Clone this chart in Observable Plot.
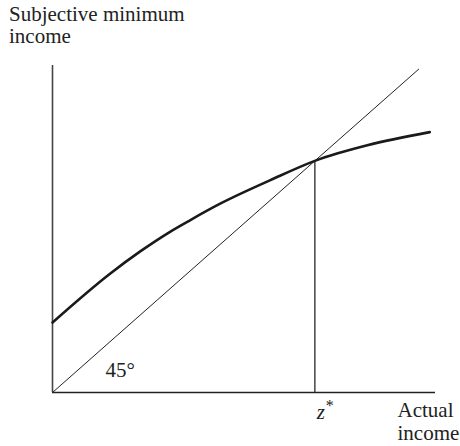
<!DOCTYPE html>
<html>
<head>
<meta charset="utf-8">
<script src="https://cdn.jsdelivr.net/npm/d3@7"></script>
<script src="https://cdn.jsdelivr.net/npm/@observablehq/plot@0.6"></script>
<style>
  body { margin: 0; background: #fff; font-family: "Liberation Serif", "Times New Roman", serif; }
  #title { height: 58px; padding: 3px 0 0 9px; box-sizing: border-box; font-size: 21px; line-height: 22px; color: #222; }
  #chart svg { display: block; overflow: visible; }
</style>
</head>
<body>
<div id="title">Subjective minimum<br>income</div>
<div id="chart"></div>
<script>
// Subjective minimum income curve (data units)
const incomeX = [0, 15.1, 23.0, 30.8, 36.0, 43.9, 56.9, 68.5, 82.2, 98.5];
const minIncomeY = [20.7, 35.2, 41.8, 47.6, 51.0, 55.9, 62.8, 68.5, 73.1, 77.0];
// 45-degree line extent
const diagonalX = [0, 95.6];
// intersection point z*
const zStar = 68.5;
const xDomain = [0, 100];
const yDomain = [0, 96.7];

const curve = incomeX.map((x, i) => ({x, y: minIncomeY[i]}));
const diag = diagonalX.map(x => ({x, y: x}));
const serif = "Liberation Serif";

const plot = Plot.plot({
  width: 460,
  height: 388,
  marginLeft: 52,
  marginRight: 25,
  marginTop: 7,
  marginBottom: 54,
  x: {domain: xDomain, axis: null},
  y: {domain: yDomain, axis: null},
  style: {fontFamily: "'Liberation Serif', 'Times New Roman', serif", background: "#fff", overflow: "visible"},
  marks: [
    Plot.ruleX([0], {stroke: "#444", strokeWidth: 1.6}),
    Plot.ruleY([0], {stroke: "#222", strokeWidth: 1.6}),
    Plot.line(diag, {x: "x", y: "y", stroke: "#222", strokeWidth: 1}),
    Plot.ruleX([zStar], {y1: 0, y2: zStar, stroke: "#444", strokeWidth: 1.5}),
    Plot.line(curve, {x: "x", y: "y", stroke: "#1a1a1a", strokeWidth: 2.6, curve: "monotone-x"}),
    Plot.text(["45°"], {frameAnchor: "bottom-left", dx: 53, dy: -16, textAnchor: "start", lineAnchor: "bottom", fontSize: 21, fontFamily: serif, fill: "#222"}),
    Plot.text(["z"], {x: [zStar], frameAnchor: "bottom", dx: 2, dy: 26, textAnchor: "start", lineAnchor: "bottom", fontSize: 21, fontFamily: serif, fontStyle: "italic", fill: "#222"}),
    Plot.text(["*"], {x: [zStar], frameAnchor: "bottom", dx: 11, dy: 18, textAnchor: "start", lineAnchor: "bottom", fontSize: 16, fontFamily: serif, fill: "#222"}),
    Plot.text(["Actual\nincome"], {frameAnchor: "bottom-right", dx: -38, dy: 9, textAnchor: "start", lineAnchor: "top", lineHeight: 1.07, fontSize: 21, fontFamily: serif, fill: "#222"})
  ]
});
document.getElementById("chart").appendChild(plot);
</script>
</body>
</html>
